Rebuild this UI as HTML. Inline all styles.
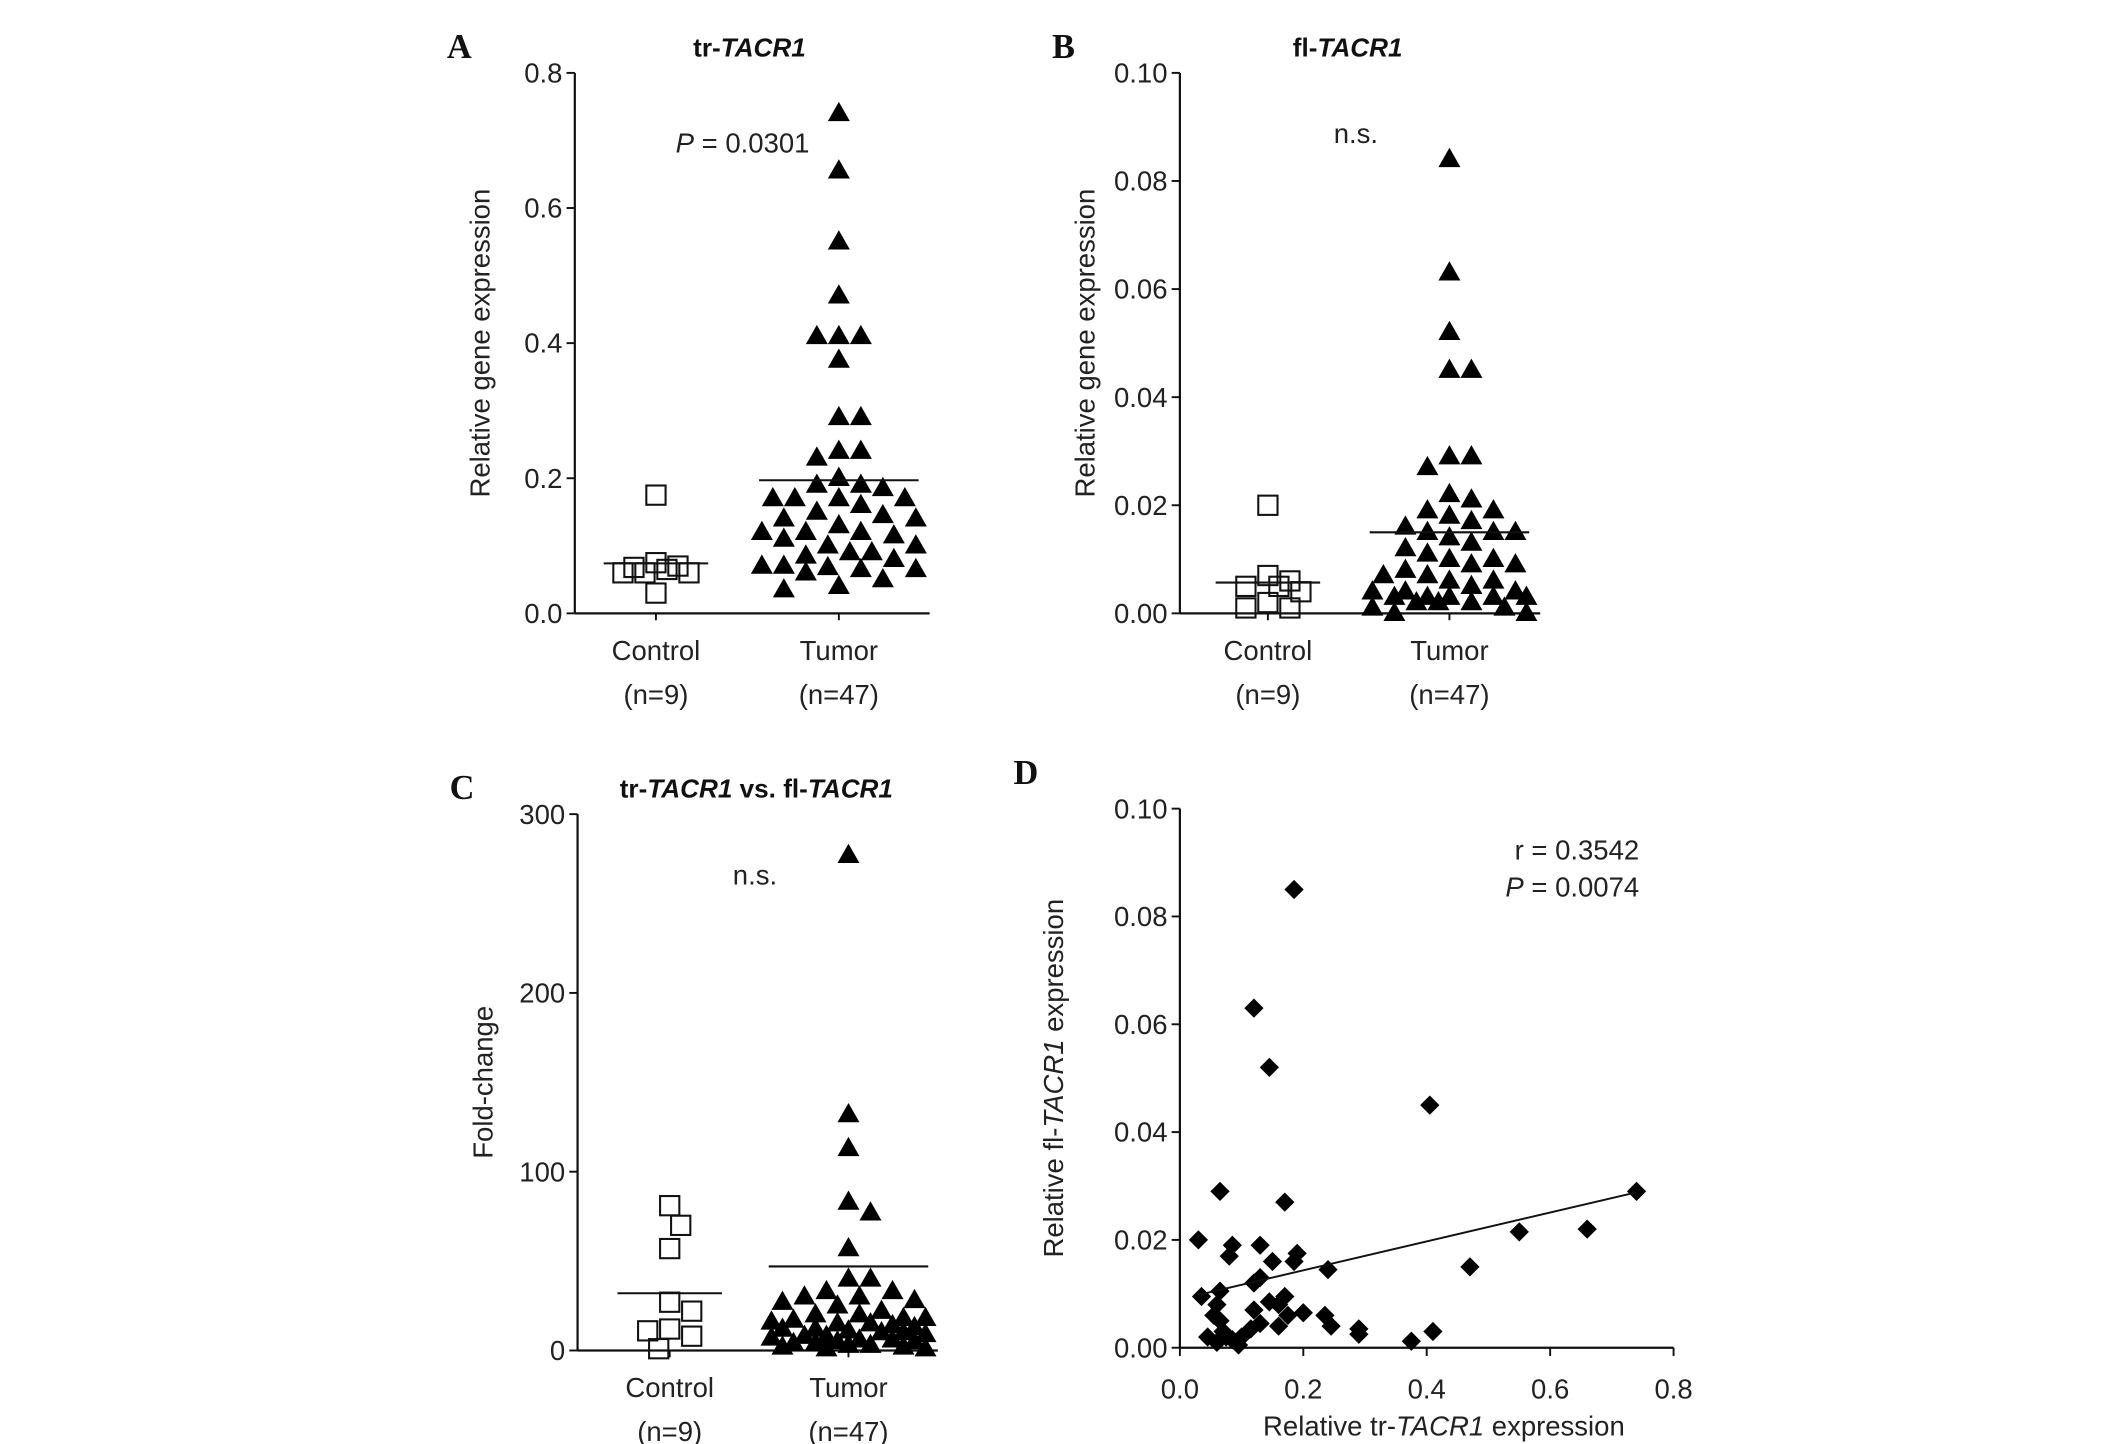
<!DOCTYPE html>
<html><head><meta charset="utf-8"><style>
html,body{margin:0;padding:0;background:#fff;}
svg{display:block;font-family:"Liberation Sans",sans-serif;}
.tick{font-size:20px;fill:#222;}
.ttl{font-size:20px;fill:#222;}
.pl{font-family:"Liberation Serif",serif;font-weight:bold;font-size:25px;fill:#111;}
.hd{font-weight:bold;font-size:19px;fill:#111;}
</style></head><body>
<svg id="fig" width="2126" height="1444" viewBox="0 0 1546 1050" preserveAspectRatio="none" xmlns="http://www.w3.org/2000/svg"></svg>
<script>
// ---- data ----
const groupLabels = ["Control", "Tumor"];
const groupCounts = ["(n=9)", "(n=47)"];
const aControl = [0.175,0.075,0.06,0.06,0.03,0.06,0.065,0.07,0.068];
const aTumor = [0.74,0.655,0.55,0.47,0.41,0.41,0.41,0.375,0.29,0.29,0.24,0.23,0.24,0.2,0.19,0.19,0.185,0.17,0.17,0.17,0.17,0.16,0.15,0.145,0.14,0.14,0.13,0.12,0.12,0.12,0.115,0.11,0.1,0.1,0.09,0.09,0.085,0.08,0.07,0.07,0.068,0.065,0.065,0.06,0.05,0.04,0.035];
const aMeans = [0.074,0.197];
const aTicks = ["0.0","0.2","0.4","0.6","0.8"];
const bControl = [0.02,0.007,0.005,0.005,0.006,0.004,0.002,0.001,0.001];
const bTumor = [0.084,0.063,0.052,0.045,0.045,0.029,0.029,0.027,0.022,0.021,0.019,0.019,0.018,0.017,0.016,0.015,0.015,0.015,0.014,0.013,0.012,0.011,0.01,0.01,0.009,0.009,0.008,0.007,0.007,0.006,0.006,0.005,0.004,0.004,0.004,0.003,0.003,0.003,0.003,0.003,0.002,0.002,0.002,0.001,0.001,0.0,0.0];
const bMeans = [0.0057,0.015];
const bTicks = ["0.00","0.02","0.04","0.06","0.08","0.10"];
const cControl = [81,70,57,27,22,11,12,8,1];
const cTumor = [277,132,113,83,77,57,40,40,33,33,30,30,28,27,25,22,20,20,18,18,17,16,15,15,14,13,12,12,11,10,10,9,8,8,7,6,6,5,5,4,4,3,3,2,2,1,1];
const cMeans = [32,47];
const cTicks = ["0","100","200","300"];
const dX = [0.185,0.12,0.145,0.405,0.065,0.17,0.74,0.66,0.55,0.47,0.03,0.085,0.13,0.08,0.19,0.185,0.15,0.24,0.13,0.12,0.035,0.065,0.06,0.145,0.17,0.16,0.175,0.2,0.235,0.12,0.055,0.065,0.245,0.29,0.29,0.16,0.13,0.41,0.375,0.045,0.06,0.075,0.095,0.1,0.115,0.07,0.085];
const dY = [0.085,0.063,0.052,0.045,0.029,0.027,0.029,0.022,0.0215,0.015,0.02,0.019,0.019,0.017,0.0175,0.016,0.016,0.0145,0.013,0.012,0.0095,0.0105,0.008,0.0085,0.0095,0.008,0.006,0.0065,0.006,0.007,0.006,0.005,0.004,0.0035,0.0025,0.004,0.0045,0.003,0.0012,0.002,0.001,0.002,0.0005,0.002,0.0035,0.003,0.0015];
const dFit = [0.0268, 0.009];
const dXTicks = ["0.0","0.2","0.4","0.6","0.8"];
const dYTicks = ["0.00","0.02","0.04","0.06","0.08","0.10"];

const svg = document.getElementById('fig');
const NS = "http://www.w3.org/2000/svg";
function mk(tag, attrs, parent){
  const e = document.createElementNS(NS, tag);
  for (const k in attrs) e.setAttribute(k, attrs[k]);
  (parent||svg).appendChild(e);
  return e;
}
function txt(x,y,s,cls,anchor,parent){
  const t = mk('text',{x:x,y:y,class:cls,'text-anchor':anchor||'middle'},parent);
  t.innerHTML = s;
  return t;
}
function scale(d0,d1,r0,r1){return v=>r0+(v-d0)/(d1-d0)*(r1-r0);}

function yAxis(g,x,y0,y1,ticks,vmax,title,titleX){
  const ax = mk('line',{x1:x,y1:y0,x2:x,y2:y1,stroke:'#111','stroke-width':1.6},g);
  
  
  const ys = scale(0,vmax,y0,y1);
  ticks.forEach((t,i)=>{
    const v = vmax*i/(ticks.length-1);
    const yy = ys(v);
    const tk = mk('line',{x1:x-6,y1:yy,x2:x,y2:yy,stroke:'#111','stroke-width':1.4},g);
    
    
    const lb = txt(x-9,yy+7,t,'tick','end',g);
    
    
  });
  const tt = mk('text',{x:0,y:0,class:'ttl','text-anchor':'middle',transform:`translate(${titleX},${(y0+y1)/2}) rotate(-90)`},g);
  tt.innerHTML = title;
  
  
  return ys;
}

function swarm(vals, ys, cx, size, maxSpread){
  const order = vals.map((v,i)=>i).sort((a,b)=>vals[b]-vals[a]);
  const placed = [];
  const out = new Array(vals.length);
  const step = size*0.5;
  const kmax = Math.floor(maxSpread/step)*2;
  order.forEach(i=>{
    const y = ys(vals[i]);
    let best = 0, bestD = -1;
    for (let k=0;k<=kmax;k++){
      const off = (k%2?1:-1)*Math.ceil(k/2)*step;
      let md = Infinity;
      placed.forEach(p=>{md=Math.min(md,Math.hypot(p[0]-(cx+off), p[1]-y));});
      if (md >= size*0.95){best=off;bestD=Infinity;break;}
      if (md > bestD+0.5){bestD=md;best=off;}
    }
    placed.push([cx+best,y]);
    out[i]=[cx+best,y];
  });
  return out;
}

function dotPanel(o){
  const g = mk('g',{});
  
  
  const pl = txt(o.x0-93,o.y1-11,o.letter,'pl','start',g);
  
  
  const hd = txt(o.titleX,o.y1-12,o.title,'hd','middle',g);
  
  
  const ys = yAxis(g,o.x0,o.y0,o.y1,o.ticks,o.vmax,o.ytitle,o.x0-62);
  const xa = mk('line',{x1:o.x0,y1:o.y0,x2:o.x2,y2:o.y0,stroke:'#111','stroke-width':1.6},g);
  
  
  [o.cx0,o.cx1].forEach((cx,i)=>{
    const tk = mk('line',{x1:cx,y1:o.y0,x2:cx,y2:o.y0+5,stroke:'#111','stroke-width':1.4},g);
    
    
    const l1 = txt(cx,o.y0+34,groupLabels[i],'ttl','middle',g);
    
    
    const l2 = txt(cx,o.y0+66,groupCounts[i],'ttl','middle',g);
    
    
  });
  const s = 14;
  swarm(o.ctrl,ys,o.cx0,s+2,30).forEach(p=>{
    const r = mk('rect',{x:p[0]-s/2,y:p[1]-s/2,width:s,height:s,fill:'none',stroke:'#111','stroke-width':1.5},g);
    
    
  });
  swarm(o.tum,ys,o.cx1,s+2,60).forEach(p=>{
    const h=14,w=16;
    const t = mk('polygon',{points:`${p[0]},${p[1]-h*0.6} ${p[0]-w/2},${p[1]+h*0.4} ${p[0]+w/2},${p[1]+h*0.4}`,fill:'#000'},g);
    
    
  });
  [o.cx0,o.cx1].forEach((cx,i)=>{
    const y = ys(o.means[i]);
    const m = mk('line',{x1:cx-(i?58:38),y1:y,x2:cx+(i?58:38),y2:y,stroke:'#111','stroke-width':1.5},g);
    
    
  });
  const an = txt(o.annX,o.annY,o.ann,'ttl','middle',g);
  
  
}

dotPanel({name:'panel-a',letter:'A',title:'tr-<tspan font-style="italic">TACR1</tspan>',titleX:545,x0:418,x2:676,y0:446,y1:53,cx0:477,cx1:610,ticks:aTicks,vmax:0.8,ctrl:aControl,tum:aTumor,means:aMeans,ytitle:'Relative gene expression',ann:'<tspan font-style="italic">P</tspan> = 0.0301',annX:540,annY:111});
dotPanel({name:'panel-b',letter:'B',title:'fl-<tspan font-style="italic">TACR1</tspan>',titleX:980,x0:858,x2:1120,y0:446,y1:53,cx0:922,cx1:1054,ticks:bTicks,vmax:0.10,ctrl:bControl,tum:bTumor,means:bMeans,ytitle:'Relative gene expression',ann:'n.s.',annX:986,annY:104});
dotPanel({name:'panel-c',letter:'C',title:'tr-<tspan font-style="italic">TACR1</tspan> vs. fl-<tspan font-style="italic">TACR1</tspan>',titleX:550,x0:420,x2:682,y0:982,y1:592,cx0:487,cx1:617,ticks:cTicks,vmax:300,ctrl:cControl,tum:cTumor,means:cMeans,ytitle:'Fold-change',ann:'n.s.',annX:549,annY:643});

// Panel D
(function(){
  const g = mk('g',{});
  
  
  const x0=858,x1=1217,y0=980,y1=588;
  const pl = txt(737,570,'D','pl','start',g);
  
  
  const ys = yAxis(g,x0,y0,y1,dYTicks,0.10,'Relative fl-<tspan font-style="italic">TACR1</tspan> expression',773);
  const xs = scale(0,0.8,x0,x1);
  const xa = mk('line',{x1:x0,y1:y0,x2:x1,y2:y0,stroke:'#111','stroke-width':1.6},g);
  
  
  dXTicks.forEach((t,i)=>{
    const xx = xs(0.8*i/(dXTicks.length-1));
    const tk = mk('line',{x1:xx,y1:y0,x2:xx,y2:y0+6,stroke:'#111','stroke-width':1.4},g);
    
    
    const lb = txt(xx,y0+37,t,'tick','middle',g);
    
    
  });
  const xt = txt(1050,1050-6,'Relative tr-<tspan font-style="italic">TACR1</tspan> expression','ttl','middle',g);
  
  
  dX.forEach((v,i)=>{
    const px = xs(v), py = ys(dY[i]), r=7;
    const d = mk('polygon',{points:`${px},${py-r} ${px+r},${py} ${px},${py+r} ${px-r},${py}`,fill:'#000'},g);
    
    
  });
  const xmin = Math.min(...dX), xmax = Math.max(...dX);
  const fl = mk('line',{x1:xs(xmin),y1:ys(dFit[0]*xmin+dFit[1]),x2:xs(xmax),y2:ys(dFit[0]*xmax+dFit[1]),stroke:'#111','stroke-width':1.4},g);
  
  
  const r1 = txt(1192,625,'r = 0.3542','ttl','end',g);
  
  
  const r2 = txt(1192,652,'<tspan font-style="italic">P</tspan> = 0.0074','ttl','end',g);
  
  
})();
</script>
</body></html>
